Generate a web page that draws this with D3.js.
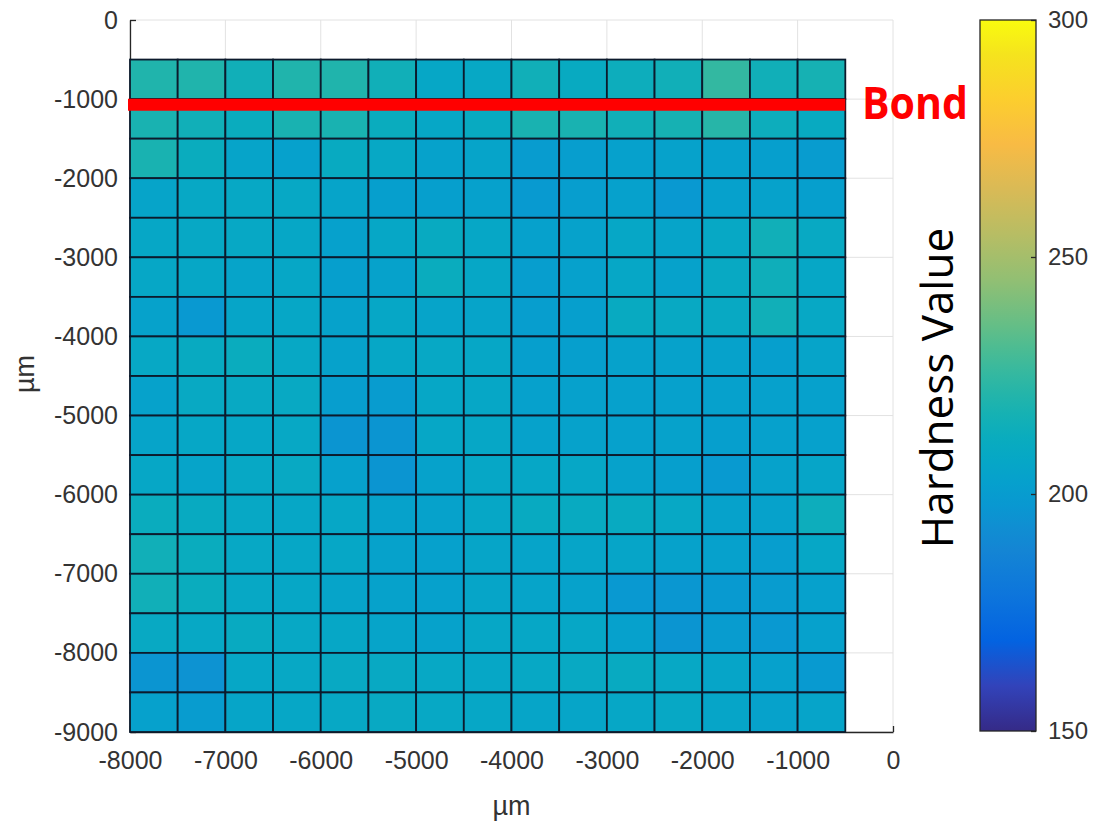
<!DOCTYPE html>
<html>

<head>
    <meta charset="utf-8">
    <style>
        body {
            margin: 0;
            background: white;
        }

        svg {
            display: block;
            font-family: 'Liberation Sans', Arial, sans-serif;
        }

        .tick text {
            fill: #333;
        }
    </style>
</head>

<body>
    <svg width="1093" height="823"></svg>
</body>

<script src="https://d3js.org/d3.v7.min.js"></script>

<script>
    // cell centres (um), 500 um pitch
    let xCenters = [-7750, -7250, -6750, -6250, -5750, -5250, -4750, -4250, -3750, -3250, -2750, -2250, -1750, -1250, -750]
    let yCenters = [-750, -1250, -1750, -2250, -2750, -3250, -3750, -4250, -4750, -5250, -5750, -6250, -6750, -7250, -7750, -8250, -8750]

    // hardness, one row per y centre (top to bottom)
    let hardness = [
        [220, 220, 215, 220, 220, 215, 207, 208, 215, 210, 213, 215, 225, 215, 217],
        [218, 215, 212, 218, 218, 212, 207, 210, 218, 218, 215, 217, 222, 213, 210],
        [218, 212, 205, 203, 210, 208, 204, 205, 200, 201, 203, 204, 203, 202, 200],
        [205, 208, 208, 208, 205, 202, 202, 203, 199, 201, 203, 198, 203, 204, 202],
        [207, 208, 208, 207, 203, 207, 210, 207, 203, 204, 207, 205, 208, 215, 209],
        [207, 207, 205, 207, 202, 204, 212, 207, 201, 203, 207, 204, 209, 214, 207],
        [204, 198, 206, 207, 204, 207, 205, 205, 201, 202, 210, 209, 209, 215, 208],
        [208, 210, 212, 208, 204, 207, 208, 207, 202, 202, 204, 204, 204, 202, 205],
        [204, 209, 209, 209, 201, 200, 207, 207, 203, 203, 203, 203, 203, 203, 203],
        [205, 207, 207, 208, 196, 196, 207, 207, 204, 204, 203, 204, 202, 203, 203],
        [207, 205, 208, 209, 203, 196, 204, 207, 207, 207, 204, 202, 199, 204, 206],
        [212, 210, 208, 207, 207, 204, 204, 207, 210, 210, 210, 208, 204, 204, 213],
        [215, 212, 208, 207, 207, 204, 203, 206, 205, 206, 206, 204, 203, 201, 207],
        [215, 212, 208, 207, 205, 204, 203, 206, 205, 204, 198, 197, 199, 200, 203],
        [209, 208, 210, 208, 207, 205, 204, 207, 207, 207, 203, 196, 200, 198, 203],
        [196, 195, 207, 208, 209, 209, 208, 207, 208, 209, 210, 208, 206, 203, 199],
        [203, 200, 206, 207, 208, 209, 208, 207, 206, 206, 207, 208, 206, 204, 205]
    ]

    let xTicks = [-8000, -7000, -6000, -5000, -4000, -3000, -2000, -1000, 0]
    let yTicks = [0, -1000, -2000, -3000, -4000, -5000, -6000, -7000, -8000, -9000]
    let cTicks = [150, 200, 250, 300]
    let bondDepth = -1070

    // parula colormap (selected entries of the 64 step table)
    let parulaIdx = [0, 4, 8, 12, 16, 18, 20, 22, 24, 26, 28, 30, 32, 34, 36, 40, 44, 48, 52, 56, 60, 63]
    let parulaRgb = [
        [0.2081, 0.1663, 0.5292], [0.1959, 0.2645, 0.7279], [0.0117, 0.3875, 0.8820], [0.0498, 0.4586, 0.8641],
        [0.0793, 0.5200, 0.8312], [0.0641, 0.5570, 0.8240], [0.0343, 0.5966, 0.8199], [0.0239, 0.6287, 0.8038],
        [0.0228, 0.6535, 0.7768], [0.0384, 0.6743, 0.7436], [0.0843, 0.6928, 0.7062], [0.1453, 0.7098, 0.6646],
        [0.2178, 0.7250, 0.6193], [0.3022, 0.7376, 0.5712], [0.3953, 0.7459, 0.5244], [0.5709, 0.7485, 0.4494],
        [0.7184, 0.7411, 0.3905], [0.8507, 0.7299, 0.3360], [0.9739, 0.7314, 0.2666], [0.9880, 0.8066, 0.1794],
        [0.9589, 0.8949, 0.1132], [0.9763, 0.9831, 0.0538]
    ]

    let svg = d3.select("svg")

    let mLeft = 130, mRight = 893, mTop = 20, mBottom = 732

    let x = d3.scaleLinear().domain([-8000, 0]).range([mLeft, mRight])
    let y = d3.scaleLinear().domain([0, -9000]).range([mTop, mBottom])

    let cmin = 150, cmax = 300
    let stopColors = parulaRgb.map(c => d3.rgb(c[0] * 255, c[1] * 255, c[2] * 255).toString())
    let color = d3.scaleLinear()
        .domain(parulaIdx.map(i => cmin + (cmax - cmin) * i / 63))
        .range(stopColors)
        .clamp(true)

    // light grid under everything
    svg.append("g")
        .selectAll("line")
        .data(xTicks)
        .join("line")
        .attr("x1", d => x(d)).attr("x2", d => x(d))
        .attr("y1", mTop).attr("y2", mBottom)
        .style("stroke", "#e2e2e2")
        .style("stroke-width", 1)

    svg.append("g")
        .selectAll("line")
        .data(yTicks)
        .join("line")
        .attr("y1", d => y(d)).attr("y2", d => y(d))
        .attr("x1", mLeft).attr("x2", mRight)
        .style("stroke", "#e2e2e2")
        .style("stroke-width", 1)

    // axes (box off, ticks inward)
    let xAxis = svg.append("g")
        .attr("transform", `translate(0,${mBottom})`)
        .call(d3.axisBottom(x).tickValues(xTicks).tickFormat(d => String(d))
            .tickSizeInner(-6).tickSizeOuter(0).tickPadding(19))
    let yAxis = svg.append("g")
        .attr("transform", `translate(${mLeft},0)`)
        .call(d3.axisLeft(y).tickValues(yTicks).tickFormat(d => String(d))
            .tickSizeInner(-6).tickSizeOuter(0).tickPadding(12))

    ;[xAxis, yAxis].forEach(a => {
        a.selectAll("path, line").style("stroke", "#262626").style("stroke-width", 1.3)
        a.selectAll("text").style("font-size", "25px").style("font-family", "'Liberation Sans', Arial, sans-serif")
    })

    // cells
    let cells = []
    hardness.forEach((row, j) => {
        row.forEach((v, i) => {
            cells.push({ xc: xCenters[i], yc: yCenters[j], v: v })
        })
    })

    svg.append("g")
        .selectAll("rect")
        .data(cells)
        .join("rect")
        .attr("x", d => x(d.xc - 250))
        .attr("y", d => y(d.yc + 250))
        .attr("width", d => x(d.xc + 250) - x(d.xc - 250))
        .attr("height", d => y(d.yc - 250) - y(d.yc + 250))
        .style("fill", d => color(d.v))
        .style("stroke", "#0c1a2c")
        .style("stroke-width", 1.8)

    // bond line
    svg.append("line")
        .attr("x1", x(-8000) - 2)
        .attr("x2", x(-500))
        .attr("y1", y(bondDepth))
        .attr("y2", y(bondDepth))
        .style("stroke", "#ff0000")
        .style("stroke-width", 12)

    svg.append("text")
        .attr("x", 862)
        .attr("y", 119)
        .attr("textLength", 106)
        .attr("lengthAdjust", "spacingAndGlyphs")
        .style("font-family", "'Open Sans', sans-serif")
        .style("font-weight", 700)
        .style("font-size", "44px")
        .style("fill", "#ff0000")
        .text("Bond")

    // axis titles
    svg.append("text")
        .attr("x", (mLeft + mRight) / 2)
        .attr("y", 815)
        .attr("text-anchor", "middle")
        .style("font-size", "27px")
        .style("fill", "#333")
        .text("µm")

    svg.append("text")
        .attr("transform", `translate(34,374) rotate(-90)`)
        .attr("text-anchor", "middle")
        .style("font-size", "27px")
        .style("fill", "#333")
        .text("µm")

    // colorbar
    let cbLeft = 980, cbRight = 1036
    let cy = d3.scaleLinear().domain([cmin, cmax]).range([mBottom - 1, mTop])

    let grad = svg.append("defs").append("linearGradient")
        .attr("id", "parula")
        .attr("x1", 0).attr("y1", 1).attr("x2", 0).attr("y2", 0)
    grad.selectAll("stop")
        .data(parulaIdx)
        .join("stop")
        .attr("offset", d => d / 63)
        .attr("stop-color", (d, i) => stopColors[i])

    svg.append("rect")
        .attr("x", cbLeft)
        .attr("y", cy(cmax))
        .attr("width", cbRight - cbLeft)
        .attr("height", cy(cmin) - cy(cmax))
        .style("fill", "url(#parula)")
        .style("stroke", "#262626")
        .style("stroke-width", 1.3)

    let cAxis = svg.append("g")
        .attr("transform", `translate(${cbRight},0)`)
        .call(d3.axisRight(cy).tickValues(cTicks).tickFormat(d => String(d))
            .tickSizeInner(-5).tickSizeOuter(0).tickPadding(12))
    cAxis.select(".domain").remove()
    cAxis.selectAll("line").style("stroke", "#262626").style("stroke-width", 1.3)
    cAxis.selectAll("text").style("font-size", "24px")

    svg.append("text")
        .attr("transform", `translate(953,388) rotate(-90)`)
        .attr("text-anchor", "middle")
        .style("font-family", "'Open Sans', sans-serif")
        .style("font-size", "44px")
        .style("fill", "#000")
        .text("Hardness Value")

</script>

</html>
